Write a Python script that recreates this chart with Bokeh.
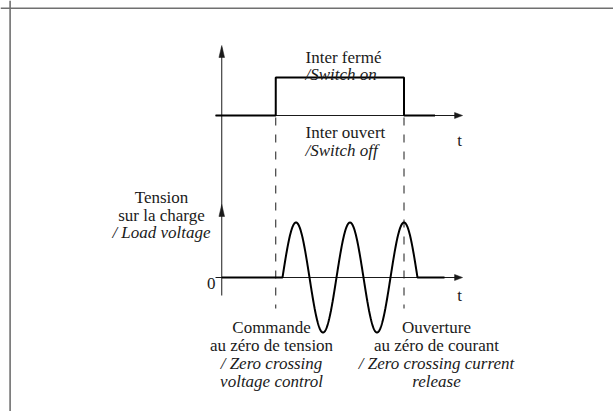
import numpy as np
from bokeh.plotting import figure
from bokeh.models import Range1d, Span, Label
from bokeh.embed import file_html
from bokeh.resources import INLINE

# ---- data (times in ms, 50 Hz mains) ----
period_ms = 20.0
t_switch_on = 20.0
t_switch_off = 67.5
t_wave_start = 22.5
t_wave_end = 72.5
t_upper_start = -2.3
t_upper_end = 79.0
t_lower_end = 82.5
t_axis_end = 89.2

switch_t = [t_upper_start, t_switch_on, t_switch_on, t_switch_off, t_switch_off, t_upper_end]
switch_state = [0, 0, 1, 1, 0, 0]

# load voltage (normalised): sine between zero-voltage turn on and zero-current release
wave_t = np.linspace(t_wave_start, t_wave_end, 400)
wave_v = np.sin(2 * np.pi * (wave_t - t_wave_start) / period_ms)
volt_t = np.concatenate([[0.0], wave_t, [t_lower_end]])
volt_v = np.concatenate([[0.0], wave_v, [0.0]])

labels_upper_on = ["Inter fermé", "/Switch on"]
labels_upper_off = ["Inter ouvert", "/Switch off"]
labels_load = ["Tension", "sur la charge", "/ Load voltage"]
labels_cmd = ["Commande", "au zéro de tension", "/ Zero crossing", "voltage control"]
labels_open = ["Ouverture", "au zéro de courant", "/ Zero crossing current", "release"]

# ---- layout (pixel geometry) ----
X0 = 221.25      # pixel of t = 0
PX = 2.7         # pixels per ms
W, H = 613, 411
Y_UP = 115       # upper baseline (px from top)
Y_LO = 277       # lower baseline
PULSE_H = 38
AMP = 55
FONT = "Liberation Serif"
FS = "17px"
INK = "#1a1a1a"


def px2t(px):
    return (px - X0) / PX


p = figure(width=W, height=H, output_backend="svg", toolbar_location=None,
           x_range=Range1d(px2t(0), px2t(W)), y_range=Range1d(H, 0),
           min_border=0)
p.axis.visible = False
p.grid.visible = False
p.outline_line_color = None
p.background_fill_color = "white"

# frame (only top/left visible)
p.add_layout(Span(location=7.8, dimension="width", line_color="#707070", line_width=1.6))
p.add_layout(Span(location=px2t(9.6), dimension="height", line_color="#707070", line_width=1.6))

# axes
p.line([t_upper_start, t_axis_end - 2], [Y_UP, Y_UP], line_color=INK, line_width=1)
p.line([t_upper_start, t_axis_end - 2], [Y_LO, Y_LO], line_color=INK, line_width=1)
p.line([0, 0], [47, 295], line_color=INK, line_width=1)

aw = 2.8 / PX
p.patches(
    xs=[[0, -aw, aw], [0, -aw, aw],
        [t_axis_end, t_axis_end - 8 / PX, t_axis_end - 8 / PX],
        [t_axis_end, t_axis_end - 8 / PX, t_axis_end - 8 / PX]],
    ys=[[45, 57, 57], [204, 216, 216],
        [Y_UP, Y_UP - 3, Y_UP + 3], [Y_LO, Y_LO - 3, Y_LO + 3]],
    fill_color=INK, line_color=INK, line_width=0.5)

# dashed markers
for td in (t_switch_on, t_switch_off):
    p.line([td, td], [Y_UP + 2, 308], line_color=INK, line_width=1, line_dash="8 9")

# signals
p.line(switch_t, [Y_UP - PULSE_H * s for s in switch_state], line_color="black", line_width=2)
p.line(volt_t, Y_LO - AMP * volt_v, line_color="black", line_width=2)


def txt(x_px, y_px, lines, align="left", italic_from=1, step=18):
    for i, s in enumerate(lines):
        p.add_layout(Label(x=px2t(x_px), y=y_px + i * step, text=s,
                           text_font=FONT, text_font_size=FS,
                           text_font_style="italic" if i >= italic_from else "normal",
                           text_color=INK, text_align=align, text_baseline="alphabetic"))


txt(305, 57, labels_upper_on, step=17)
txt(305, 132, labels_upper_off)
txt(161, 197, labels_load, align="center", italic_from=2, step=17.5)
txt(271, 327, labels_cmd, align="center", italic_from=2)
txt(436, 327, labels_open, align="center", italic_from=2)
txt(215, 283, ["0"], align="right")
txt(459, 140, ["t"], align="center")
txt(459, 295, ["t"], align="center")

open("out.html", "w").write(file_html(p, INLINE))
